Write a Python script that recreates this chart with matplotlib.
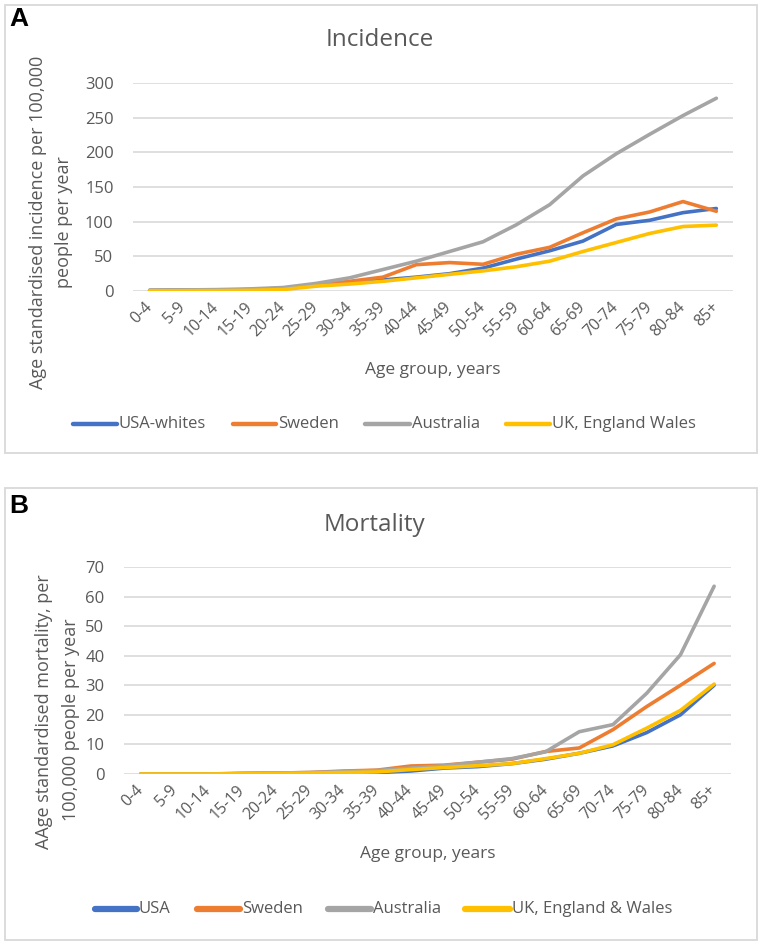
import numpy as np
import matplotlib
matplotlib.use('Agg')
import matplotlib.pyplot as plt
from matplotlib import font_manager
from matplotlib.lines import Line2D
from matplotlib.patches import Rectangle


# pick a narrow font close to Calibri if one is installed
installed = {f.name for f in font_manager.fontManager.ttflist}
for name in ['Liberation Sans Narrow', 'Open Sans', 'Liberation Sans', 'DejaVu Sans']:
    if name in installed:
        base_font = name
        break
plt.rcParams['font.family'] = [base_font, 'DejaVu Sans']

age_groups = ['0-4', '5-9', '10-14', '15-19', '20-24', '25-29', '30-34', '35-39', '40-44',
              '45-49', '50-54', '55-59', '60-64', '65-69', '70-74', '75-79', '80-84', '85+']

# A - incidence per 100,000 per year
inc_usa = [1, 1.5, 1, 2, 4, 8, 12, 16, 20, 25, 33, 46, 58, 72, 96, 102, 113, 119]
inc_sweden = [0.5, 0.5, 1, 2, 4, 9, 14, 20, 38, 41, 38.5, 53, 63, 84, 104, 114, 129, 115]
inc_australia = [1, 1.5, 2, 3, 5, 11, 19, 31, 43, 57, 71, 95.5, 124.5, 166, 198, 226, 253, 278]
inc_uk = [0.5, 0.5, 0.5, 1, 2, 7, 10, 14, 19, 24, 29, 35, 43, 57, 70, 83, 93, 95]

# B - mortality per 100,000 per year
mort_usa = [0, 0, 0, 0.1, 0.2, 0.3, 0.4, 0.5, 1, 2, 2.5, 3.5, 5, 7, 9.5, 14, 20, 30]
mort_sweden = [0, 0, 0, 0.2, 0.3, 0.5, 1, 1.3, 2.7, 3, 4, 5, 7.6, 8.8, 15, 22.8, 30, 37.4]
mort_australia = [0, 0, 0, 0.2, 0.3, 0.5, 0.8, 1.2, 2, 2.8, 4, 5.2, 7.5, 14.3, 16.7, 27.3, 40.3, 63.5]
mort_uk = [0, 0, 0, 0.1, 0.2, 0.3, 0.5, 0.7, 1.5, 2.2, 2.8, 3.5, 5.2, 7, 9.9, 15.5, 21.5, 30.4]

colors = ['#4472C4', '#ED7D31', '#A5A5A5', '#FFC000']
labels_a = ['USA-whites', 'Sweden', 'Australia', 'UK, England Wales']
labels_b = ['USA', 'Sweden', 'Australia', 'UK, England & Wales']

W, H = 761, 944
txt = '#595959'
grid = '#d9d9d9'

fig = plt.figure(figsize=(W / 100, H / 100), dpi=100)


def fx(x):
    return x / W


def fy(y):
    return 1 - y / H


def panel(box, plot, series, names, yticks, title, title_y, ylabel_lines, xlabel_y,
          leg_y, leg_pos, leg_lw, letter, letter_y):
    # outer frame
    x0, y0, x1, y1 = box
    fig.add_artist(Rectangle((fx(x0), fy(y1)), fx(x1 - x0), (y1 - y0) / H,
                             fill=False, edgecolor=grid, lw=1.3, transform=fig.transFigure))
    l, t, r, b = plot
    ax = fig.add_axes([fx(l), fy(b), fx(r - l), (b - t) / H])
    x = np.arange(len(age_groups))
    for vals, c in zip(series, colors):
        ax.plot(x, vals, color=c, lw=2.6, solid_capstyle='round', solid_joinstyle='round')
    ax.set_xlim(-0.5, len(age_groups) - 0.5)
    ax.set_ylim(yticks[0], yticks[-1])
    ax.set_yticks(yticks)
    ax.set_xticks(x)
    ax.set_xticklabels(age_groups, rotation=45, ha='right', va='center',
                       rotation_mode='anchor', fontsize=11.5, color=txt)
    ax.tick_params(axis='y', labelsize=12, colors=txt, length=0, pad=14)
    ax.tick_params(axis='x', length=0, pad=10)
    ax.yaxis.grid(True, color=grid, lw=1.2)
    ax.set_axisbelow(True)
    for s in ax.spines.values():
        s.set_visible(False)

    fig.text(fx((l + r) / 2 - 53), fy(title_y), title, fontsize=17.5, color=txt,
             ha='center', va='center')
    for (lx, ly, s) in ylabel_lines:
        fig.text(fx(lx), fy(ly), s, rotation=90, fontsize=13, color=txt,
                 ha='center', va='center')
    fig.text(fx((l + r) / 2), fy(xlabel_y), 'Age group, years', fontsize=12.5,
             color=txt, ha='center', va='center')
    for (hx0, hx1), name, c in zip(leg_pos, names, colors):
        fig.add_artist(Line2D([fx(hx0), fx(hx1)], [fy(leg_y), fy(leg_y)], color=c,
                              lw=leg_lw, solid_capstyle='round', transform=fig.transFigure))
        fig.text(fx(hx1 + 2), fy(leg_y), name, fontsize=12, color=txt,
                 ha='left', va='center')
    fig.text(fx(9), fy(letter_y), letter, fontsize=19, fontweight='bold',
             family=['Liberation Sans', 'DejaVu Sans'], color='black',
             ha='left', va='center')
    return ax


panel((5, 5, 757, 453), (133, 83, 733, 291),
      [inc_usa, inc_sweden, inc_australia, inc_uk], labels_a,
      [0, 50, 100, 150, 200, 250, 300], 'Incidence', 40,
      [(38, 222, 'Age standardised incidence per 100,000'), (64, 222, 'people per year')],
      370, 424, [(73, 117), (233, 276), (365, 410), (506, 550)], 3.2, 'A', 19)

panel((5, 488, 757, 940), (124, 567, 731, 774),
      [mort_usa, mort_sweden, mort_australia, mort_uk], labels_b,
      [0, 10, 20, 30, 40, 50, 60, 70], 'Mortality', 525,
      [(44, 712, 'AAge standardised mortality, per'), (71, 720, '100,000 people per year')],
      854, 909, [(95, 137), (197, 240), (328, 371), (465, 510)], 4.5, 'B', 506)

fig.savefig('out.png', dpi=100, facecolor='white')
